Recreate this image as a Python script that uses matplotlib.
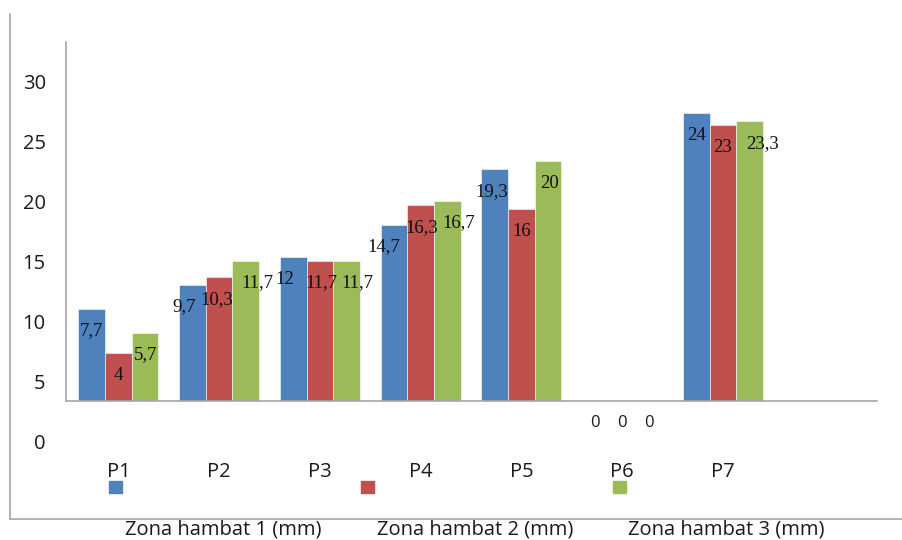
import matplotlib.pyplot as plt
import numpy as np
from matplotlib.patches import Rectangle
from matplotlib.lines import Line2D

# data
categories = ["P1", "P2", "P3", "P4", "P5", "P6", "P7"]
zona1 = [7.7, 9.7, 12, 14.7, 19.3, 0, 24]
zona2 = [4, 10.3, 11.7, 16.3, 16, 0, 23]
zona3 = [5.7, 11.7, 11.7, 16.7, 20, 0, 23.3]
series_names = ["Zona hambat 1 (mm)", "Zona hambat 2 (mm)", "Zona hambat 3 (mm)"]
y_tick_values = [0, 5, 10, 15, 20, 25, 30]

colors = ["#4F81BD", "#C0504D", "#9BBB59"]
# sideways nudge (points) of the value labels, the source pushes some outward
label_dx = [[0, -6, -6, -7, -2, 0, 0],
            [0, -2, 1, 1, 0, 0, 0],
            [0, 8, 8, 8, 1, 0, 9]]
W, H = 902, 540
tick_shift = 3.6   # tick labels sit this far below their value (as in the source)

fig = plt.figure(figsize=(W / 100, H / 100), dpi=100)
ax = fig.add_axes([66 / W, 1 - 401 / H, (877 - 66) / W, (401 - 42) / H])

x = np.arange(len(categories))
bw = 0.265
serif = "Liberation Serif"
sans = "Open Sans"

for i, vals in enumerate([zona1, zona2, zona3]):
    pos = x + (i - 1) * bw
    ax.bar(pos, vals, width=bw, color=colors[i], edgecolor="white", linewidth=0.4)
    for j, (px, v) in enumerate(zip(pos, vals)):
        txt = f"{v:g}".replace(".", ",")
        if v == 0:
            ax.annotate(txt, (px, v), xytext=(0, -16), textcoords="offset points",
                        ha="center", va="center", fontsize=12, family=sans,
                        color="#1a1a1a", annotation_clip=False)
        else:
            ax.annotate(txt, (px, v), xytext=(label_dx[i][j], -16),
                        textcoords="offset points", ha="center", va="center",
                        fontsize=13.5, family=serif, color="#111111")

ax.set_xlim(-0.52, 7.53)
ax.set_ylim(0, 29.92)
ax.set_xticks([])
ax.set_yticks([])
for s in ["top", "right"]:
    ax.spines[s].set_visible(False)
for s in ["left", "bottom"]:
    ax.spines[s].set_color("#a6a6a6")
    ax.spines[s].set_linewidth(1.2)

# y labels (shifted like in the original picture)
ytr = ax.get_yaxis_transform()
for v in y_tick_values:
    ax.text(-0.025, v - tick_shift, str(v), transform=ytr, ha="right", va="center",
            fontsize=14.5, family=sans, color="#1a1a1a", clip_on=False)

# category labels
xtr = ax.get_xaxis_transform()
for xi, c in zip(x, categories):
    ax.text(xi, -0.198, c, transform=xtr, ha="center", va="center",
            fontsize=14.5, family=sans, color="#1a1a1a", clip_on=False)

# legend: squares and names, placed apart like in the source
square_x = [109, 361, 613]
name_x = [223, 475, 726]
for i in range(3):
    fig.add_artist(Rectangle((square_x[i] / W, 1 - 493 / H), 13 / W, 12 / H,
                             transform=fig.transFigure, color=colors[i]))
    fig.text(name_x[i] / W, 1 - 529 / H, series_names[i], ha="center", va="center",
             fontsize=14.5, family=sans, color="#1a1a1a")

# outer chart frame (left and bottom edge only)
fig.add_artist(Line2D([10 / W, 10 / W], [1 - 14 / H, 1 - 519 / H],
                      transform=fig.transFigure, color="#a6a6a6", lw=1.2))
fig.add_artist(Line2D([10 / W, 1], [1 - 519 / H, 1 - 519 / H],
                      transform=fig.transFigure, color="#a6a6a6", lw=1.2))

fig.savefig("out.png", dpi=100)
